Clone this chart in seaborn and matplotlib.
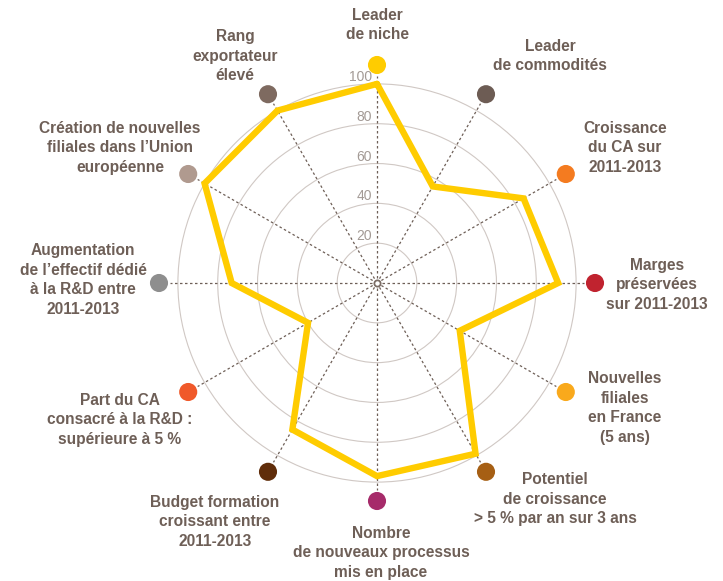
import numpy as np
import matplotlib.pyplot as plt
import seaborn as sns
import pandas as pd

# données du radar (sens horaire depuis le haut)
categories = ["Leader\nde niche",
              "Leader\nde commodités",
              "Croissance\ndu CA sur\n2011-2013",
              "Marges\npréservées\nsur 2011-2013",
              "Nouvelles\nfiliales\nen France\n(5 ans)",
              "Potentiel\nde croissance\n> 5 % par an sur 3 ans",
              "Nombre\nde nouveaux processus\nmis en place",
              "Budget formation\ncroissant entre\n2011-2013",
              "Part du CA\nconsacré à la R&D :\nsupérieure à 5 %",
              "Augmentation\nde l’effectif dédié\nà la R&D entre\n2011-2013",
              "Création de nouvelles\nfiliales dans l’Union\neuropéenne",
              "Rang\nexportateur\nélevé"]
scores = [100, 56, 85, 91, 48, 99, 97, 85, 40, 73, 100, 100]
dot_colors = ["#ffcc00", "#6d5c54", "#f47b20", "#c0232f", "#f9a91c", "#a65f14",
              "#a62b6a", "#602d0a", "#f0592a", "#8e8e8e", "#b09a8f", "#7e6a60"]
rings = [20, 40, 60, 80, 100]

# position des libellés en pixels (x, y depuis le haut)
label_xy = [(377, 25), (550, 56), (625, 148), (657, 285), (625, 408), (555, 499),
            (381, 553), (215, 522), (120, 420), (83, 280), (120, 148), (235, 56)]

W, H = 723, 581
TXT = "#6e5f57"

sns.set_theme(style="white")
plt.rcParams['font.family'] = ['Liberation Sans', 'DejaVu Sans']

fig = plt.figure(figsize=(W / 100, H / 100), dpi=100)
ax = fig.add_axes([158 / W, (H - 283 - 219) / H, 438 / W, 438 / H], projection='polar')
ax.set_theta_zero_location('N')
ax.set_theta_direction(-1)
ax.set_ylim(0, 110)

n = len(categories)
theta = np.linspace(0, 2 * np.pi, n, endpoint=False)

# cercles
ax.set_yticks(rings)
ax.set_yticklabels([])
ax.yaxis.grid(True, color="#d0c8c4", lw=0.8)
ax.set_xticks([])
ax.xaxis.grid(False)
ax.spines['polar'].set_visible(False)
ax.set_axisbelow(True)

# rayons pointillés
for t in theta:
    ax.plot([t, t], [0, 104], ls=(0, (2, 2)), color=TXT, lw=0.9, zorder=2)

# polygone jaune
df = pd.DataFrame({'theta': np.append(theta, 2 * np.pi), 'score': scores + scores[:1]})
sns.lineplot(data=df, x='theta', y='score', ax=ax, sort=False, estimator=None,
             color="#ffcc00", lw=4.6, solid_joinstyle='miter', zorder=3)

# pastilles
dfd = pd.DataFrame({'theta': theta, 'r': [109.5] * n, 'cat': categories})
sns.scatterplot(data=dfd, x='theta', y='r', hue='cat', palette=dot_colors, ax=ax,
                s=170, linewidth=0, legend=False, clip_on=False, zorder=4)

# centre
ax.plot(0, 0, 'o', ms=4.5, mfc='white', mec="#7a6c65", mew=1.3, zorder=5)

# graduations
for v in rings:
    ax.annotate(str(v), xy=(0, v), xytext=(-3.5, 5), textcoords='offset points',
                ha='right', va='center', fontsize=10, color="#a39a95")

ax.set_xlabel("")
ax.set_ylabel("")

for lab, (x, y) in zip(categories, label_xy):
    fig.text(x / W, 1 - y / H, lab, ha='center', va='center', fontsize=11.2,
             fontweight='bold', color=TXT, linespacing=1.38)

fig.savefig("out.png", dpi=100)
